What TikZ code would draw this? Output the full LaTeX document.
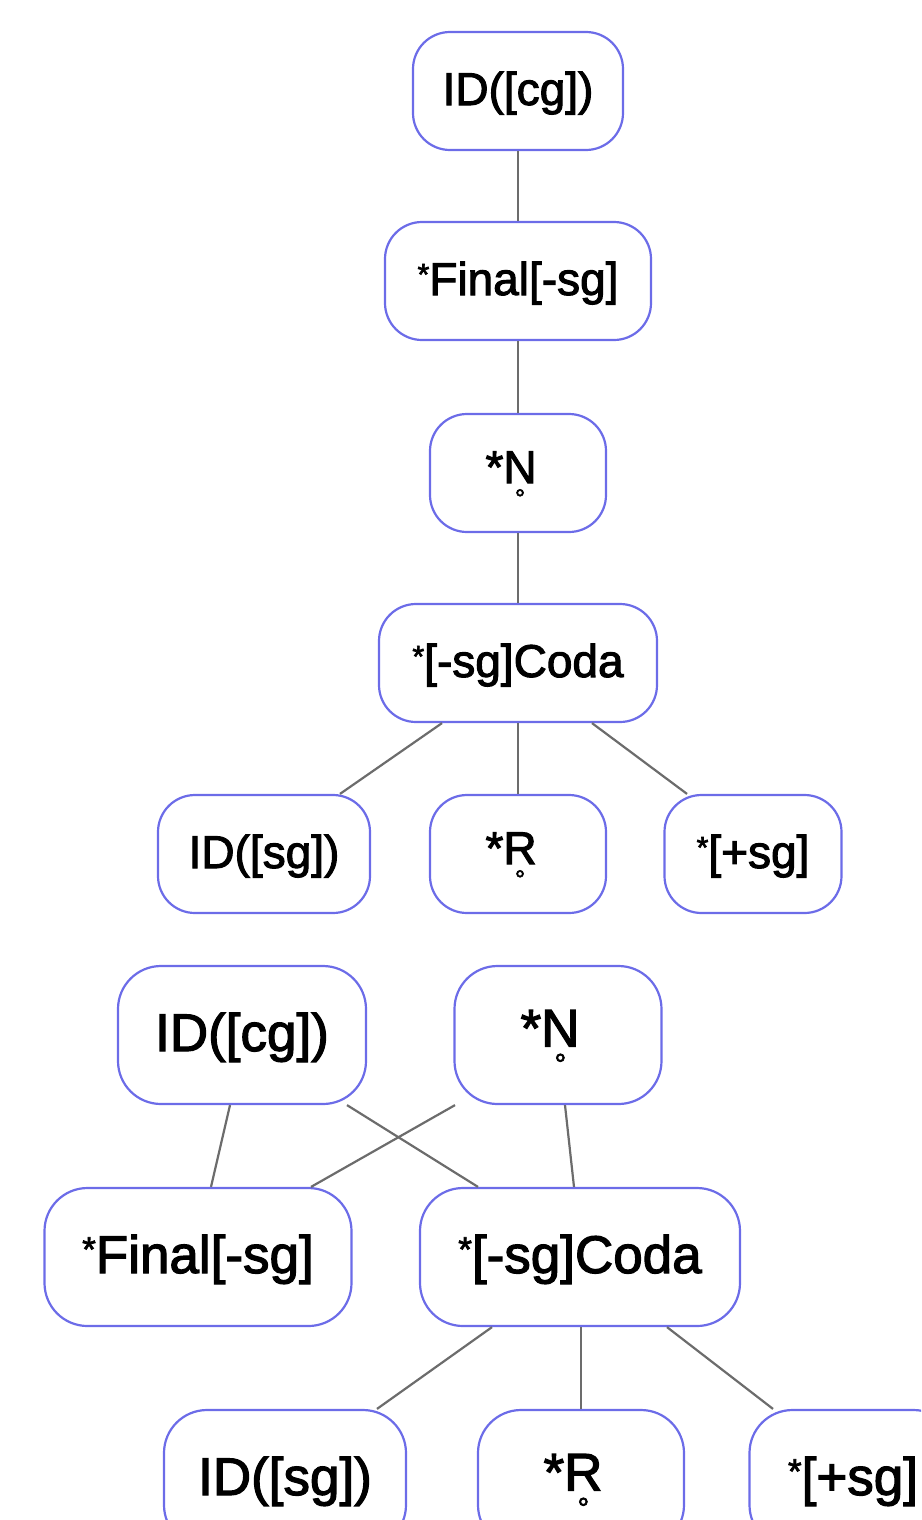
\documentclass[tikz,border=0pt]{standalone}
\usepackage{fontspec}
\setmainfont{Liberation Sans}[RawFeature={embolden=2.2}]
\usepackage{graphicx}
\definecolor{boxblue}{RGB}{108,108,232}
\definecolor{linkgray}{RGB}{108,108,108}
% small raised asterisk
\newcommand\smallast{\raisebox{0.22em}{\scalebox{0.66}{*}}}
% letter with a ring below (voiceless diacritic)
\newsavebox\ringbox
\newcommand\ringbelow[1]{\sbox\ringbox{#1}\rlap{\hbox to\wd\ringbox{\hss\smash{\raisebox{-0.52em}{\scalebox{0.55}{°}}}\hss}}\usebox\ringbox\kern0.3em}
\begin{document}
\begin{tikzpicture}[x=1pt,y=-1pt,
  box/.style={draw=boxblue, line width=2.2pt, fill=white, inner sep=0pt, text=black},
  tbox/.style={box, minimum height=118pt, rounded corners=37pt,
    font=\fontsize{46}{50}\selectfont, text height=36pt, text depth=8pt},
  bbox/.style={box, minimum height=138pt, rounded corners=43pt,
    font=\fontsize{53}{58}\selectfont, text height=41pt, text depth=9pt},
  tring/.style={tbox, text depth=16pt},
  bring/.style={bbox, text depth=18pt},
  link/.style={draw=linkgray, line width=2.2pt}]
\useasboundingbox (0,0) rectangle (921,1520);
\clip (0,0) rectangle (921,1520);

% upper ranking
\node[tbox, minimum width=210pt] (t1) at (518,91)  {ID([cg])};
\node[tbox, minimum width=266pt] (t2) at (518,281) {\smallast Final[-sg]};
\node[tring, minimum width=176pt] (t3) at (518,473) {*\ringbelow{N}};
\node[tbox, minimum width=278pt] (t4) at (518,663) {\smallast[-sg]Coda};
\node[tbox, minimum width=212pt] (t5) at (264,854) {ID([sg])};
\node[tring, minimum width=176pt] (t6) at (518,854) {*\ringbelow{R}};
\node[tbox, minimum width=177pt] (t7) at (753,854) {\smallast[+sg]};

\draw[link] (t1.south) -- (t2.north);
\draw[link] (t2.south) -- (t3.north);
\draw[link] (t3.south) -- (t4.north);
\draw[link] ([xshift=-76pt]t4.south) -- ([xshift=76pt]t5.north);
\draw[link] (t4.south) -- (t6.north);
\draw[link] ([xshift=74pt]t4.south) -- ([xshift=-66pt]t7.north);

% lower ranking
\node[bbox, minimum width=248pt] (b1) at (242,1035) {ID([cg])};
\node[bring, minimum width=207pt] (b2) at (558,1035) {*\ringbelow{N}};
\node[bbox, minimum width=307pt] (b3) at (198,1257) {\smallast Final[-sg]};
\node[bbox, minimum width=320pt] (b4) at (580,1257) {\smallast[-sg]Coda};
\node[bbox, minimum width=242pt] (b5) at (285,1479) {ID([sg])};
\node[bring, minimum width=206pt] (b6) at (581,1479) {*\ringbelow{R}};
\node[bbox, minimum width=207pt] (b7) at (853,1479) {\smallast[+sg]};

\draw[link] ([xshift=-12pt]b1.south) -- ([xshift=13pt]b3.north);
\draw[link] ([xshift=105pt]b1.south) -- ([xshift=-102pt]b4.north);
\draw[link] ([xshift=-103pt]b2.south) -- ([xshift=113pt]b3.north);
\draw[link] ([xshift=7pt]b2.south) -- ([xshift=-6pt]b4.north);
\draw[link] ([xshift=-88pt]b4.south) -- ([xshift=92pt]b5.north);
\draw[link] ([xshift=1pt]b4.south) -- (b6.north);
\draw[link] ([xshift=87pt]b4.south) -- ([xshift=-80pt]b7.north);
\end{tikzpicture}
\end{document}
